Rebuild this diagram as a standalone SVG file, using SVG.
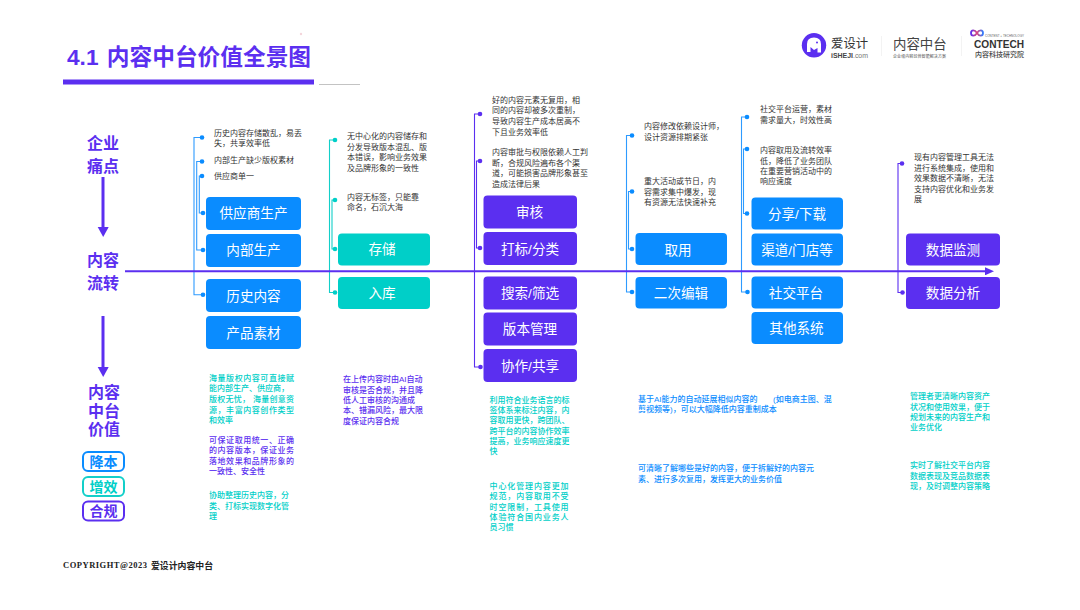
<svg xmlns="http://www.w3.org/2000/svg" width="1080" height="610" viewBox="0 0 1080 610">
<style>
text{font-family:"Liberation Sans","Noto Sans CJK SC",sans-serif}
.s{font-size:8px;fill:#333}
.v{font-size:8px;font-weight:500}
.t{fill:#00CFC8}.p{fill:#5B2FF0}.b{fill:#0A8CFF}
.box{stroke:none}
.l{font-size:13.6px;fill:#fff;text-anchor:middle}
.h{font-size:16px;font-weight:700;fill:#5B2FF0;text-anchor:middle}
.c{fill:none;stroke-width:1.1}
.cb{stroke:#2E9BFF}.ct{stroke:#13CFC9}.cp{stroke:#5B2FF0}
.tag{fill:#fff;stroke-width:2}
.tl{font-size:14px;font-weight:700;text-anchor:middle}
</style>
<defs>
<marker id="ah" markerUnits="userSpaceOnUse" markerWidth="9" markerHeight="8" refX="0" refY="4" orient="auto"><path d="M0 0L9 4L0 8Z" fill="#5B2FF0"/></marker>
<linearGradient id="ig" x1="0" x2="1" y1="0" y2="0"><stop offset="0" stop-color="#5B2FF0"/><stop offset="0.5" stop-color="#E0457B"/><stop offset="1" stop-color="#2E7BFF"/></linearGradient>
</defs>
<rect width="1080" height="610" fill="#fff"/>
<g id="title">
<circle cx="301" cy="34" r="1.2" fill="#F4D5DC"/>
<text x="67" y="65" font-size="22.7" font-weight="700" fill="#5B2FF0">4.1 <tspan dx="2">内容中台价值全景图</tspan></text>
<rect x="63" y="79.5" width="251" height="5" fill="#5B2FF0"/>
<rect x="319" y="84" width="41" height="0.7" fill="#aaa"/>
</g>
<g id="logos">
<circle cx="814" cy="45.300" r="12.200" fill="#5B2FF0"/>
<path d="M807 52V44Q807 37.500 814 37.500Q821 37.500 821 44V52.500H817.500V48L814 50L810.500 47V52Z" fill="#fff"/>
<circle cx="817" cy="42.500" r="1" fill="#5B2FF0"/>
<text x="831" y="47.500" font-size="12.400" fill="#333">爱设计</text>
<text x="831" y="58" font-size="7.400" fill="#444" textLength="37" lengthAdjust="spacingAndGlyphs"><tspan font-weight="700">iSHEJI</tspan><tspan fill="#777">.com</tspan></text>
<rect x="881" y="36" width="0.7" height="20" fill="#eee"/>
<text x="893" y="49" font-size="13.400" fill="#444">内容中台</text>
<text x="893" y="57.500" font-size="4" fill="#555" textLength="53">企业级内容经营智能解决方案</text>
<rect x="961" y="36" width="0.7" height="20" fill="#eee"/>
<path d="M977 33C975 29.500 971 29.500 971 33C971 36.500 975 36.500 977 33C979 29.500 983 29.500 983 33C983 36.500 979 36.500 977 33" fill="none" stroke="url(#ig)" stroke-width="1.800"/>
<text x="985" y="37" font-size="3" font-weight="500" fill="#666" textLength="39">CONTENT + TECHNOLOGY</text>
<text x="974" y="47.800" font-size="11.500" font-weight="700" fill="#333" textLength="50" lengthAdjust="spacingAndGlyphs">CONTECH</text>
<text x="975" y="56.800" font-size="7" font-weight="500" fill="#444">内容科技研究院</text>
</g>
<g id="connectors">
<path class="c cb" d="M202 137.500H194V294.700H203M202 161.500H196.700V250H203M202 176H199.300V213H203"/>
<path class="c ct" d="M335 140H329.500V292.500H335M335 200H332V249H335"/>
<path class="c cp" d="M480 114H474.500V367H480.500M480 161H476.500V248H480"/>
<path class="c cb" d="M632 135.500H626.500V292H632M632 191.500H628.500V249H632"/>
<path class="c cb" d="M747 117H741.500V292H747.500M747 149H743.500V213.500H747"/>
<path class="c cp" d="M902 163.500H898V292.500H902.500"/>
<g fill="#0A8CFF"><circle cx="202" cy="137.500" r="2.300"/><circle cx="202" cy="161.500" r="2.300"/><circle cx="202" cy="176" r="2.300"/><circle cx="203" cy="213" r="2.300"/><circle cx="203" cy="250" r="2.300"/><circle cx="203" cy="294.700" r="2.300"/>
<circle cx="632" cy="135.500" r="2.300"/><circle cx="632" cy="191.500" r="2.300"/><circle cx="632" cy="249" r="2.300"/><circle cx="632" cy="292" r="2.300"/>
<circle cx="747" cy="117" r="2.300"/><circle cx="747" cy="149" r="2.300"/><circle cx="747" cy="213.500" r="2.300"/><circle cx="747.500" cy="292" r="2.300"/></g>
<g fill="#00CFC8"><circle cx="335" cy="140" r="2.300"/><circle cx="335" cy="200" r="2.300"/><circle cx="335" cy="249" r="2.300"/><circle cx="335" cy="292.500" r="2.300"/></g>
<g fill="#5B2FF0"><circle cx="480" cy="114" r="2.300"/><circle cx="480" cy="161" r="2.300"/><circle cx="480" cy="248" r="2.300"/><circle cx="480.500" cy="367" r="2.300"/><circle cx="902" cy="163.500" r="2.300"/><circle cx="902.500" cy="292.500" r="2.300"/></g>
<path d="M125 271.300H985" stroke="#5B2FF0" stroke-width="2" fill="none" marker-end="url(#ah)"/>
<path d="M103 177V227" stroke="#5B2FF0" stroke-width="3" fill="none"/><path d="M97.700 227H108.700L103.200 237Z" fill="#5B2FF0"/>
<path d="M103 316V367" stroke="#5B2FF0" stroke-width="3" fill="none"/><path d="M97.700 367H108.700L103.200 377Z" fill="#5B2FF0"/>
</g>
<g id="side-labels">
<text class="h" x="103" y="149">企业</text><text class="h" x="103" y="172">痛点</text>
<text class="h" x="103" y="266">内容</text><text class="h" x="103" y="289">流转</text>
<text class="h" x="104" y="398">内容</text><text class="h" x="104" y="416.500">中台</text><text class="h" x="104" y="435">价值</text>
</g>
<g id="tag-cost"><rect class="tag" x="83" y="452" width="41" height="19" rx="5" stroke="#0A8CFF"/><text class="tl b" x="103.500" y="466.500">降本</text></g>
<g id="tag-eff"><rect class="tag" x="83" y="477" width="41" height="19" rx="5" stroke="#13CFC9"/><text class="tl t" x="103.500" y="491.500">增效</text></g>
<g id="tag-comp"><rect class="tag" x="83" y="501.500" width="41" height="19" rx="5" stroke="#5B2FF0"/><text class="tl p" x="103.500" y="516">合规</text></g>

<g id="n-supplier"><rect class="box b" x="206" y="197" width="95" height="33" rx="4"/><text class="l" x="253.500" y="218">供应商生产</text></g>
<g id="n-internal"><rect class="box b" x="206" y="234" width="95" height="33" rx="4"/><text class="l" x="253.500" y="255">内部生产</text></g>
<g id="n-history"><rect class="box b" x="206" y="279" width="95" height="33" rx="4"/><text class="l" x="253.500" y="301">历史内容</text></g>
<g id="n-product"><rect class="box b" x="206" y="316" width="95" height="33" rx="4"/><text class="l" x="253.500" y="338">产品素材</text></g>
<g id="n-store"><rect class="box t" x="338" y="233.500" width="92" height="32" rx="4"/><text class="l" x="382" y="254">存储</text></g>
<g id="n-ingest"><rect class="box t" x="338" y="277" width="92" height="32" rx="4"/><text class="l" x="382" y="298">入库</text></g>
<g id="n-review"><rect class="box p" x="483.500" y="195.500" width="93.500" height="33" rx="4"/><text class="l" x="529.500" y="217">审核</text></g>
<g id="n-tag"><rect class="box p" x="483.500" y="232" width="93.500" height="33" rx="4"/><text class="l" x="530" y="253.500">打标/分类</text></g>
<g id="n-search"><rect class="box p" x="483.500" y="276.500" width="93.500" height="33" rx="4"/><text class="l" x="530" y="298">搜索/筛选</text></g>
<g id="n-version"><rect class="box p" x="483.500" y="312.500" width="93.500" height="33" rx="4"/><text class="l" x="530" y="334">版本管理</text></g>
<g id="n-collab"><rect class="box p" x="483.500" y="349" width="93.500" height="33" rx="4"/><text class="l" x="530" y="371">协作/共享</text></g>
<g id="n-use"><rect class="box b" x="635.500" y="233" width="91.500" height="32" rx="4"/><text class="l" x="678" y="254.500">取用</text></g>
<g id="n-edit"><rect class="box b" x="635.500" y="277" width="91.500" height="31.500" rx="4"/><text class="l" x="681" y="298">二次编辑</text></g>
<g id="n-share"><rect class="box b" x="751.500" y="197.500" width="91.500" height="32" rx="4"/><text class="l" x="797" y="218.500">分享/下载</text></g>
<g id="n-channel"><rect class="box b" x="751.500" y="233.500" width="91.500" height="32" rx="4"/><text class="l" x="797" y="254.500">渠道/门店等</text></g>
<g id="n-social"><rect class="box b" x="751.500" y="276.500" width="91.500" height="32" rx="4"/><text class="l" x="796" y="297.500">社交平台</text></g>
<g id="n-other"><rect class="box b" x="751.500" y="312" width="91.500" height="32" rx="4"/><text class="l" x="796.500" y="333">其他系统</text></g>
<g id="n-monitor"><rect class="box p" x="906" y="233.500" width="94" height="32" rx="4"/><text class="l" x="953" y="254.500">数据监测</text></g>
<g id="n-analysis"><rect class="box p" x="906" y="277" width="94" height="32" rx="4"/><text class="l" x="953" y="298">数据分析</text></g>

<g id="pain-points">
<text class="s" x="214" y="135.500">历史内容存储散乱&#xFF0C;易丢</text><text class="s" x="214" y="146">失&#xFF0C;共享效率低</text><text class="s" x="214" y="163">内部生产缺少版权素材</text><text class="s" x="214" y="179">供应商单一</text>
<text class="s" x="347" y="139">无中心化的内容储存和</text><text class="s" x="347" y="150">分发导致版本混乱、版</text><text class="s" x="347" y="160">本错误&#xFF0C;影响业务效果</text><text class="s" x="347" y="171">及品牌形象的一致性</text><text class="s" x="347" y="199.500">内容无标签&#xFF0C;只能靠</text><text class="s" x="347" y="210">命名&#xFF0C;石沉大海</text>
<text class="s" x="492" y="102.500">好的内容元素无复用&#xFF0C;相</text><text class="s" x="492" y="113">同的内容却被多次重制&#xFF0C;</text><text class="s" x="492" y="124">导致内容生产成本居高不</text><text class="s" x="492" y="134.500">下且业务效率低</text><text class="s" x="492" y="155">内容审批与权限依赖人工判</text><text class="s" x="492" y="165.500">断&#xFF0C;合规风险遍布各个渠</text><text class="s" x="492" y="176">道&#xFF0C;可能损害品牌形象甚至</text><text class="s" x="492" y="186.500">造成法律后果</text>
<text class="s" x="644" y="129">内容修改依赖设计师&#xFF0C;</text><text class="s" x="644" y="139.500">设计资源排期紧张</text><text class="s" x="644" y="184">重大活动或节日&#xFF0C;内</text><text class="s" x="644" y="194.500">容需求集中爆发&#xFF0C;现</text><text class="s" x="644" y="204.500">有资源无法快速补充</text>
<text class="s" x="760" y="112">社交平台运营&#xFF0C;素材</text><text class="s" x="760" y="122.500">需求量大&#xFF0C;时效性高</text><text class="s" x="760" y="153">内容取用及流转效率</text><text class="s" x="760" y="163.500">低&#xFF0C;降低了业务团队</text><text class="s" x="760" y="173.500">在重要营销活动中的</text><text class="s" x="760" y="184">响应速度</text>
<text class="s" x="914" y="160">现有内容管理工具无法</text><text class="s" x="914" y="170.500">进行系统集成&#xFF0C;使用和</text><text class="s" x="914" y="181">效果数据不清晰&#xFF0C;无法</text><text class="s" x="914" y="191.500">支持内容优化和业务发</text><text class="s" x="914" y="202">展</text>
</g>
<g id="value-points">
<text class="v t" x="209" y="381" textLength="85">海量版权内容可直接赋</text><text class="v t" x="209" y="391">能内部生产、供应商&#xFF0C;</text><text class="v t" x="209" y="402" textLength="85">版权无忧&#xFF0C; 海量创意资</text><text class="v t" x="209" y="412.500" textLength="85">源&#xFF0C;丰富内容创作类型</text><text class="v t" x="209" y="422.500">和效率</text>
<text class="v p" x="209" y="443" textLength="85">可保证取用统一、正确</text><text class="v p" x="209" y="453" textLength="85">的内容版本&#xFF0C;保证业务</text><text class="v p" x="209" y="463.500" textLength="85">落地效果和品牌形象的</text><text class="v p" x="209" y="473.500">一致性、安全性</text>
<text class="v t" x="209" y="498">协助整理历史内容&#xFF0C;分</text><text class="v t" x="209" y="508.500">类、打标实现数字化管</text><text class="v t" x="209" y="518.500">理</text>
<text class="v p" x="343" y="382">在上传内容时由AI自动</text><text class="v p" x="343" y="392.500">审核是否合规&#xFF0C;并且降</text><text class="v p" x="343" y="403">低人工审核的沟通成</text><text class="v p" x="343" y="413">本、错漏风险&#xFF0C;最大限</text><text class="v p" x="343" y="423.500">度保证内容合规</text>
<text class="v t" x="489.500" y="402.500">利用符合业务语言的标</text><text class="v t" x="489.500" y="413">签体系来标注内容&#xFF0C;内</text><text class="v t" x="489.500" y="423">容取用更快&#xFF0C;跨团队、</text><text class="v t" x="489.500" y="433.500">跨平台的内容协作效率</text><text class="v t" x="489.500" y="444">提高&#xFF0C;业务响应速度更</text><text class="v t" x="489.500" y="454">快</text>
<text class="v t" x="489.500" y="488.500" textLength="79">中心化管理内容更加</text><text class="v t" x="489.500" y="499" textLength="79">规范&#xFF0C;内容取用不受</text><text class="v t" x="489.500" y="509.500" textLength="79">时空限制&#xFF0C;工具使用</text><text class="v t" x="489.500" y="519.500" textLength="79">体验符合国内业务人</text><text class="v t" x="489.500" y="530">员习惯</text>
<text class="v b" x="638" y="401.500" xml:space="preserve">基于AI能力的自动延展相似内容的       (如电商主图、混</text><text class="v b" x="638" y="412">剪视频等)&#xFF0C;可以大幅降低内容重制成本</text>
<text class="v b" x="638" y="471">可清晰了解哪些是好的内容&#xFF0C;便于拆解好的内容元</text><text class="v b" x="638" y="481.500">素、进行多次复用&#xFF0C;发挥更大的业务价值</text>
<text class="v t" x="910" y="399">管理者更清晰内容资产</text><text class="v t" x="910" y="409.500">状况和使用效果&#xFF0C;便于</text><text class="v t" x="910" y="420">规划未来的内容生产和</text><text class="v t" x="910" y="430">业务优化</text>
<text class="v t" x="910" y="468">实时了解社交平台内容</text><text class="v t" x="910" y="478.500">数据表现及竞品数据表</text><text class="v t" x="910" y="489">现&#xFF0C;及时调整内容策略</text>
</g>
<g id="footer">
<text x="63" y="568" font-size="8.500" font-weight="700" fill="#222" textLength="84" style="font-family:'Liberation Serif',serif">COPYRIGHT@2023</text>
<text x="151" y="568.500" font-size="8.900" font-weight="700" fill="#222">爱设计内容中台</text>
</g>
</svg>
